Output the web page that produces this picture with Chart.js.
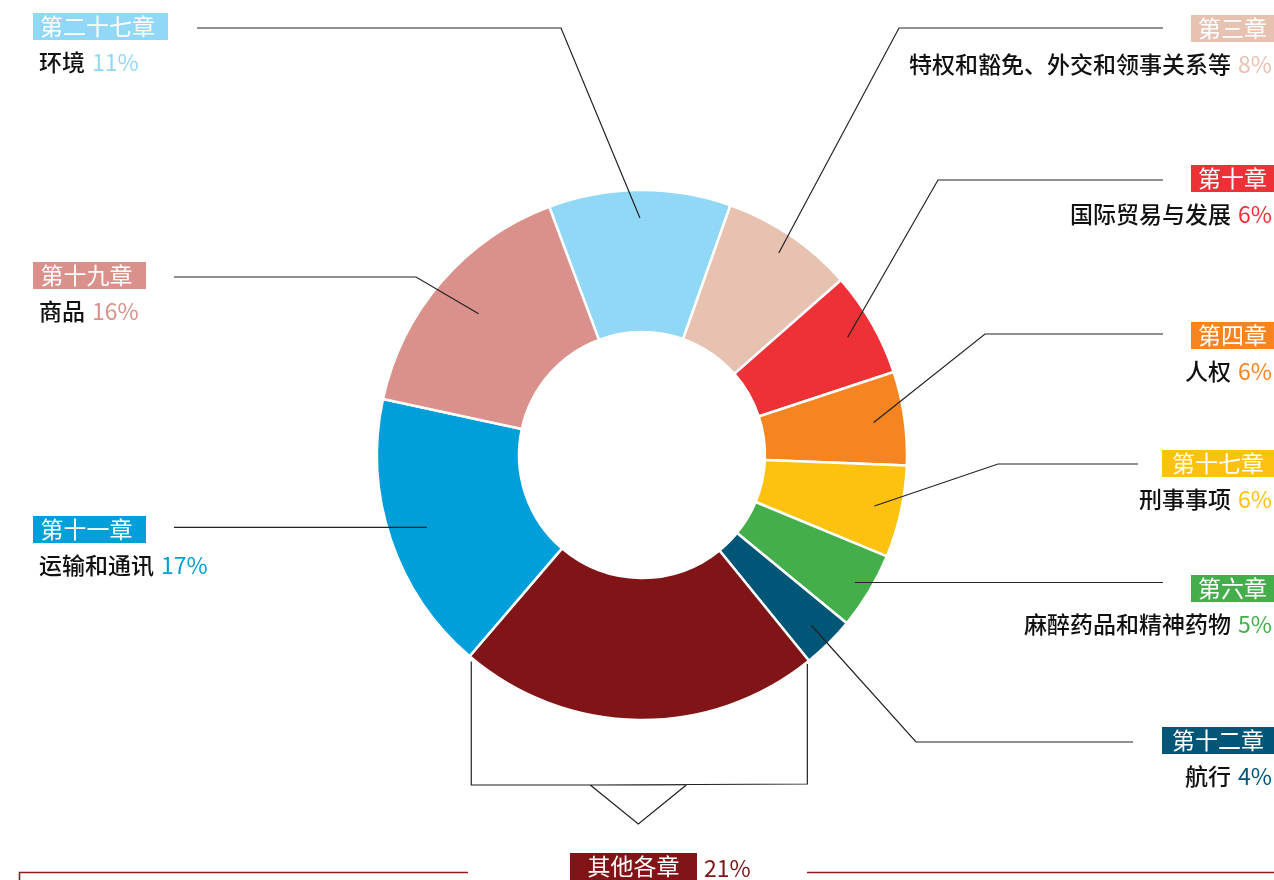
<!DOCTYPE html>
<html>
<head>
<meta charset="utf-8">
<script src="https://cdn.jsdelivr.net/npm/chart.js@4/dist/chart.umd.min.js"></script>
<style>
  html, body { margin: 0; padding: 0; background: #fff; }
  #wrap { width: 1274px; height: 880px; position: relative; }
</style>
</head>
<body>
<div id="wrap"><canvas id="c" width="1274" height="880"></canvas></div>
<script>
// ---- data ----
const chapters = ['第二十七章', '第三章', '第十章', '第四章', '第十七章', '第六章', '第十二章', '其他各章', '第十一章', '第十九章'];
const topics = ['环境', '特权和豁免、外交和领事关系等', '国际贸易与发展', '人权', '刑事事项', '麻醉药品和精神药物', '航行', '', '运输和通讯', '商品'];
const shareLabels = ['11%', '8%', '6%', '6%', '6%', '5%', '4%', '21%', '17%', '16%'];
const shareValues = [11.1, 8.1, 6.4, 5.7, 5.6, 4.7, 3.2, 22.1, 17.1, 15.9];
const colors = ['#91D8F6', '#E8C2B1', '#EE3136', '#F58421', '#FDC10F', '#43AE4A', '#005677', '#811416', '#009FDA', '#DA918B'];

// ---- layout (label placement) ----
const FONT = '"Noto Sans CJK SC", "Noto Sans", sans-serif';
const FS = 23;
const layout = [
  { side: 'L', boxTop: 13,  boxW: 135, leaderR: 237, elbow: [561, 28],  endX: 197 },
  { side: 'R', boxTop: 15,  boxW: 83,  leaderR: 244, elbow: [899, 28],  endX: 1163 },
  { side: 'R', boxTop: 165, boxW: 83,  leaderR: 237, elbow: [938, 180], endX: 1163 },
  { side: 'R', boxTop: 322, boxW: 83,  leaderR: 234, elbow: [985, 334], endX: 1163 },
  { side: 'R', boxTop: 450, boxW: 112, leaderR: 238, elbow: [998, 464], endX: 1138 },
  { side: 'R', boxTop: 575, boxW: 83,  leaderR: 248, elbow: null,       endX: 1163 },
  { side: 'R', boxTop: 727, boxW: 112, leaderR: 240, elbow: [916, 742], endX: 1133 },
  { side: 'B', boxTop: 853, boxW: 127, boxX: 570, bracketY: 784, tipY: 824, notchHalf: 48 },
  { side: 'L', boxTop: 516, boxW: 113, leaderR: 227, elbow: null,       endX: 174 },
  { side: 'L', boxTop: 262, boxW: 113, leaderR: 216, elbow: [416, 277], endX: 174 }
];
const BOX_H = 27;
const LEFT_X = 33, RIGHT_X = 1274;

const labelPlugin = {
  id: 'labels',
  afterDraw(chart) {
    const ctx = chart.ctx;
    const meta = chart.getDatasetMeta(0);
    ctx.save();
    const fontReg = FS + 'px ' + FONT;
    const fontMed = '500 ' + FS + 'px ' + FONT;
    meta.data.forEach((arc, i) => {
      const L = layout[i];
      const cx = arc.x, cy = arc.y;
      const a = (arc.startAngle + arc.endAngle) / 2;
      ctx.font = fontReg;
      ctx.strokeStyle = '#222';
      ctx.lineWidth = 1.2;
      if (L.side === 'B') {
        const r = arc.outerRadius - 1;
        const x1 = cx + r * Math.cos(arc.startAngle), y1 = cy + r * Math.sin(arc.startAngle);
        const x2 = cx + r * Math.cos(arc.endAngle), y2 = cy + r * Math.sin(arc.endAngle);
        const mid = (x1 + x2) / 2 - 1;
        ctx.beginPath();
        ctx.moveTo(x1 - 1, y1 + 4);
        ctx.lineTo(x1 - 1, L.bracketY);
        ctx.lineTo(mid - L.notchHalf, L.bracketY + 1);
        ctx.lineTo(mid, L.tipY);
        ctx.lineTo(mid + L.notchHalf, L.bracketY + 1);
        ctx.lineTo(x2 + 1, L.bracketY + 1);
        ctx.lineTo(x2 + 1, y2 + 6);
        ctx.stroke();
        // bottom rule
        ctx.strokeStyle = '#8e1b20';
        ctx.lineWidth = 1.6;
        ctx.beginPath();
        ctx.moveTo(19.5, 880);
        ctx.lineTo(19.5, 872.5);
        ctx.lineTo(468, 872.5);
        ctx.moveTo(807, 872.5);
        ctx.lineTo(1274, 872.5);
        ctx.stroke();
        ctx.fillStyle = colors[i];
        ctx.fillRect(L.boxX, L.boxTop, L.boxW, BOX_H);
        ctx.fillStyle = '#fff';
        ctx.textAlign = 'center';
        ctx.textBaseline = 'alphabetic';
        ctx.fillText(chapters[i], L.boxX + L.boxW / 2, L.boxTop + 13.5 + 8.7);
        ctx.fillStyle = colors[i];
        ctx.textAlign = 'left';
        ctx.fillText(shareLabels[i], L.boxX + L.boxW + 7, L.boxTop + 15 + 8.7);
        return;
      }
      const sx = cx + L.leaderR * Math.cos(a), sy = cy + L.leaderR * Math.sin(a);
      ctx.beginPath();
      ctx.moveTo(sx, sy);
      let ey = sy;
      if (L.elbow) { ctx.lineTo(L.elbow[0], L.elbow[1]); ey = L.elbow[1]; }
      ctx.lineTo(L.endX, ey);
      ctx.stroke();

      const bx = L.side === 'L' ? LEFT_X : RIGHT_X - L.boxW;
      ctx.fillStyle = colors[i];
      ctx.fillRect(bx, L.boxTop, L.boxW, BOX_H);
      ctx.fillStyle = '#fff';
      ctx.textAlign = 'center';
      ctx.textBaseline = 'alphabetic';
      ctx.fillText(chapters[i], bx + L.boxW / 2 - (L.side === 'L' ? 3 : 0), L.boxTop + 13.5 + 8.7);

      const by = L.boxTop + 49.5 + 8.7;
      const gap = 7;
      if (L.side === 'L') {
        ctx.textAlign = 'left';
        ctx.font = fontMed;
        ctx.fillStyle = '#111';
        ctx.fillText(topics[i], 39, by);
        const w = ctx.measureText(topics[i]).width;
        ctx.font = fontReg;
        ctx.fillStyle = colors[i];
        ctx.fillText(shareLabels[i], 39 + w + gap, by);
      } else {
        ctx.textAlign = 'right';
        ctx.font = fontReg;
        ctx.fillStyle = colors[i];
        ctx.fillText(shareLabels[i], 1272, by);
        const w = ctx.measureText(shareLabels[i]).width;
        ctx.font = fontMed;
        ctx.fillStyle = '#111';
        ctx.fillText(topics[i], 1272 - w - gap, by);
      }
    });
    ctx.restore();
  }
};

new Chart(document.getElementById('c'), {
  type: 'doughnut',
  data: {
    labels: chapters,
    datasets: [{
      data: shareValues,
      backgroundColor: colors,
      borderColor: '#ffffff',
      borderWidth: 2.5,
      hoverOffset: 0
    }]
  },
  options: {
    responsive: false,
    animation: false,
    devicePixelRatio: 1,
    rotation: -20.5,
    cutout: '46.4%',
    radius: 265,
    layout: { padding: { left: 10, right: 0, top: 30, bottom: 0 } },
    plugins: {
      legend: { display: false },
      tooltip: { enabled: false }
    }
  },
  plugins: [labelPlugin]
});
</script>
</body>
</html>
